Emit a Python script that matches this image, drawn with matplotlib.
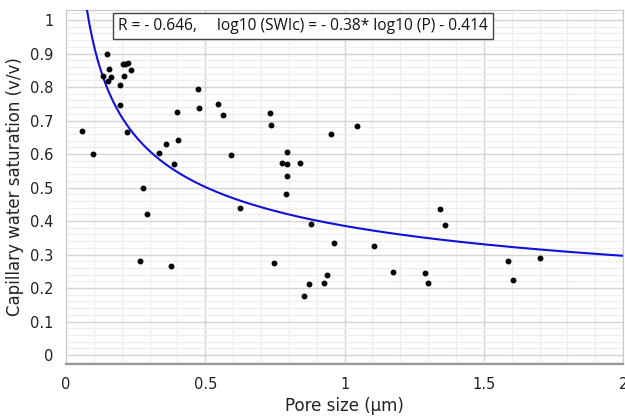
import numpy as np
import matplotlib
matplotlib.use('Agg')
import matplotlib.pyplot as plt
from matplotlib.ticker import MultipleLocator, FuncFormatter

# pore size (um) and capillary water saturation (v/v)
pore_size = [0.056, 0.098, 0.148, 0.153, 0.132, 0.163, 0.150, 0.195, 0.209,
             0.205, 0.213, 0.223, 0.232, 0.194, 0.219, 0.275, 0.291, 0.265,
             0.334, 0.358, 0.402, 0.389, 0.400, 0.376, 0.474, 0.479, 0.546,
             0.565, 0.594, 0.625, 0.734, 0.737, 0.746, 0.777, 0.792, 0.794,
             0.795, 0.791, 0.841, 0.856, 0.873, 0.880, 0.926, 0.937, 0.950,
             0.962, 1.045, 1.104, 1.173, 1.290, 1.299, 1.341, 1.361, 1.587,
             1.605, 1.700]
swic = [0.670, 0.599, 0.898, 0.855, 0.834, 0.829, 0.817, 0.807, 0.834,
        0.869, 0.870, 0.872, 0.851, 0.746, 0.665, 0.498, 0.421, 0.281,
        0.604, 0.631, 0.642, 0.569, 0.726, 0.266, 0.794, 0.738, 0.749,
        0.718, 0.596, 0.438, 0.724, 0.687, 0.276, 0.573, 0.570, 0.605,
        0.535, 0.480, 0.572, 0.175, 0.211, 0.390, 0.216, 0.239, 0.661,
        0.333, 0.684, 0.325, 0.248, 0.246, 0.214, 0.437, 0.389, 0.280,
        0.224, 0.289]

# fit: log10(SWIc) = slope*log10(P) + icpt
slope = -0.38
icpt = -0.414
fit_label = 'R = - 0.646,     log10 (SWIc) = - 0.38* log10 (P) - 0.414'

fig = plt.figure(figsize=(6.25, 4.17), dpi=100)
ax = fig.add_axes([0.1056, 0.127, 0.8914, 0.849])

xx = np.linspace(0.05, 2, 400)
yy = 10**(slope*np.log10(xx) + icpt)
ax.plot(xx, yy, color='#1010d8', lw=1.5, zorder=3)
ax.plot(pore_size, swic, 'o', color='black', ms=3.2, zorder=4)

ax.set_xlim(0, 2)
ax.set_ylim(-0.027, 1.03)
ax.xaxis.set_major_locator(MultipleLocator(0.5))
ax.xaxis.set_minor_locator(MultipleLocator(0.1))
ax.yaxis.set_minor_locator(MultipleLocator(0.02))
ax.set_yticks(np.arange(0, 1.01, 0.1))
ax.yaxis.set_major_formatter(FuncFormatter(lambda v, p: '%g' % round(v, 2)))
ax.xaxis.set_major_formatter(FuncFormatter(lambda v, p: '%g' % round(v, 2)))

ax.grid(which='major', color='#d4d4d4', lw=1.0, zorder=0)
ax.grid(which='minor', color='#eeeeee', lw=0.9, zorder=0)
ax.set_axisbelow(True)
ax.tick_params(which='both', length=0, labelsize=10.5, pad=9, colors='#222222')

for side in ['top', 'right', 'left']:
    ax.spines[side].set_color('#c8c8c8')
ax.spines['bottom'].set_color('#999999')
ax.spines['bottom'].set_linewidth(1.6)

ax.set_xlabel('Pore size (μm)', fontsize=12, color='#222222', labelpad=4)
ax.set_ylabel('Capillary water saturation (v/v)', fontsize=12, color='#222222', labelpad=4)

ax.text(0.094, 0.978, fit_label, transform=ax.transAxes, ha='left', va='top',
        fontsize=11.2, family='Open Sans', color='#111111', zorder=5,
        bbox=dict(boxstyle='square,pad=0.32', fc='white', ec='#444444', lw=1.0))

fig.savefig('out.png', dpi=100)
